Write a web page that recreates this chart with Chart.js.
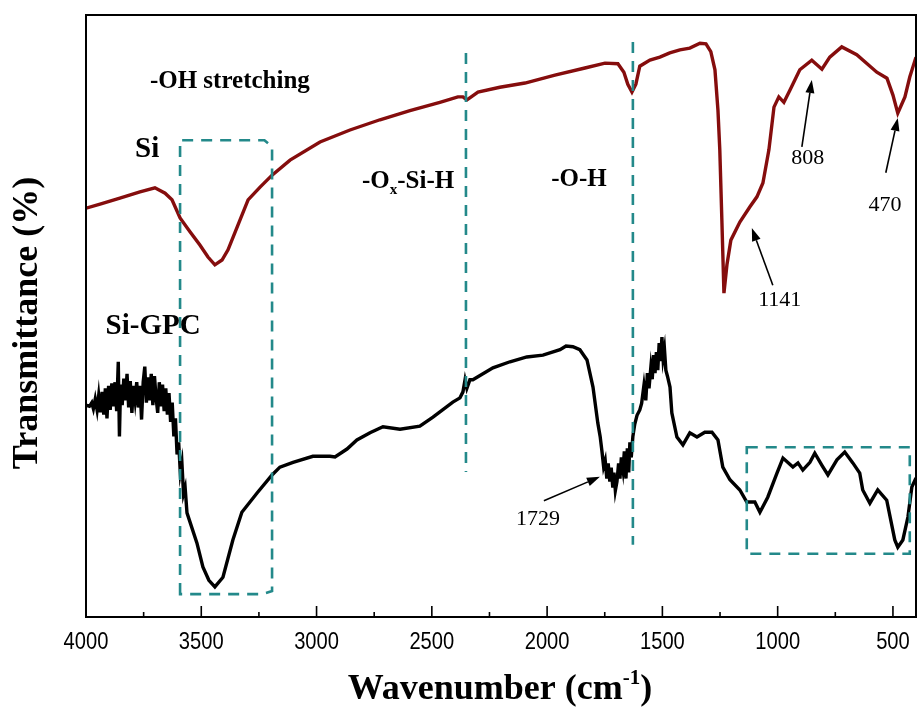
<!DOCTYPE html>
<html>
<head>
<meta charset="utf-8">
<script src="https://cdn.jsdelivr.net/npm/chart.js@4.4.1/dist/chart.umd.min.js"></script>
<style>
  html, body { margin: 0; padding: 0; background: #fff; }
  #ftir { display: block; }
</style>
</head>
<body>
<canvas id="ftir" width="917" height="718"></canvas>
<script>
// wavenumber (cm-1) and transmittance (a.u.) for the bare Si sample
const siWave = [4000, 3939, 3853, 3766, 3701, 3657, 3627, 3592, 3549, 3506, 3471, 3441, 3410, 3384, 3341, 3297,
  3245, 3193, 3115, 2985, 2855, 2725, 2595, 2465, 2387, 2365, 2348, 2326, 2300, 2205, 2096, 1966, 1836, 1749,
  1693, 1667, 1650, 1632, 1615, 1598, 1554, 1511, 1468, 1424, 1381, 1337, 1311, 1290, 1272, 1259, 1251, 1242,
  1233, 1220, 1203, 1164, 1121, 1090, 1064, 1038, 1016, 995, 973, 947, 904, 852, 808, 774, 722, 657, 570, 526,
  500, 479, 448, 427, 400];
const siT = [67.9, 68.6, 69.6, 70.6, 71.3, 70.4, 69.3, 66.3, 64.0, 61.8, 59.8, 58.5, 59.3, 61.0, 65.1, 69.3,
  71.4, 73.4, 75.9, 78.9, 80.9, 82.6, 84.1, 85.5, 86.4, 86.4, 85.9, 86.5, 87.2, 88.0, 88.7, 90.0, 91.2, 92.0,
  91.9, 90.5, 88.5, 87.2, 88.5, 91.5, 92.5, 93.0, 93.7, 94.2, 94.5, 95.3, 95.2, 93.9, 90.9, 84.2, 77.6, 65.9,
  53.8, 58.5, 62.6, 65.6, 68.1, 69.8, 72.1, 77.6, 84.7, 86.4, 85.5, 87.5, 90.9, 92.5, 91.0, 93.0, 94.7, 93.4,
  90.5, 89.5, 86.7, 83.7, 86.4, 89.7, 93.0];

// Si-GPC sample (noisy above 3600 and around 1729 / 1500)
const gpcWave = [4000, 3985, 3975, 3968, 3960, 3952, 3945, 3938, 3930, 3923, 3916, 3909, 3902, 3895, 3888, 3881,
  3874, 3867, 3860, 3855, 3850, 3843, 3836, 3829, 3822, 3815, 3808, 3801, 3794, 3787, 3780, 3773, 3766, 3759,
  3752, 3745, 3738, 3731, 3724, 3717, 3710, 3703, 3696, 3689, 3682, 3675, 3668, 3661, 3654, 3647, 3640, 3633,
  3626, 3619, 3612, 3605, 3598, 3591, 3584, 3577, 3570, 3562, 3519, 3493, 3467, 3441, 3406, 3363, 3324, 3258,
  3193, 3159, 3102, 3016, 2942, 2920, 2868, 2825, 2768, 2712, 2638, 2552, 2495, 2409, 2378, 2365, 2356, 2348,
  2335, 2322, 2235, 2161, 2088, 2018, 1944, 1918, 1888, 1858, 1827, 1801, 1780, 1770, 1762, 1755, 1748, 1741,
  1735, 1728, 1722, 1715, 1710, 1704, 1697, 1690, 1684, 1678, 1671, 1665, 1658, 1652, 1646, 1641, 1635, 1628,
  1620, 1610, 1598, 1590, 1580, 1572, 1565, 1558, 1550, 1544, 1538, 1532, 1526, 1520, 1514, 1508, 1502, 1497,
  1491, 1485, 1478, 1467, 1459, 1437, 1411, 1381, 1350, 1316, 1285, 1259, 1238, 1207, 1164, 1134, 1099, 1077,
  1043, 1003, 977, 934, 912, 891, 860, 839, 808, 782, 743, 709, 674, 644, 631, 600, 566, 527, 492, 479, 457,
  435, 418, 400];
const gpcT = [35.2, 35.0, 35.6, 34.6, 36.2, 34.4, 36.8, 34.0, 37.4, 33.6, 38.0, 33.0, 38.4, 34.4, 38.8, 35.0,
  39.0, 34.2, 42.4, 30.0, 38.6, 35.2, 39.6, 36.0, 40.4, 34.8, 39.2, 33.9, 38.4, 36.0, 39.0, 34.8, 38.4, 32.8,
  39.0, 41.6, 35.6, 39.8, 36.0, 40.4, 35.2, 40.0, 36.4, 33.9, 39.0, 35.0, 38.6, 34.2, 38.0, 33.6, 37.2, 32.4,
  35.6, 30.0, 33.0, 27.0, 29.0, 24.0, 25.6, 20.5, 21.5, 17.3, 12.3, 8.3, 6.1, 5.0, 6.6, 12.8, 17.4, 20.6,
  23.6, 24.9, 25.7, 26.7, 26.7, 26.6, 27.9, 29.4, 30.6, 31.6, 31.2, 31.7, 33.2, 35.7, 36.4, 37.4, 39.4, 38.0,
  39.4, 39.4, 41.4, 42.4, 43.2, 43.5, 44.4, 45.0, 44.9, 44.4, 42.7, 38.2, 32.2, 30.0, 27.5, 25.0, 26.0, 23.0,
  25.5, 22.5, 24.8, 21.5, 24.0, 21.0, 22.5, 25.5, 23.0, 26.5, 24.5, 27.5, 23.0, 28.0, 24.0, 29.0, 26.5, 30.0,
  32.0, 33.5, 34.4, 35.5, 38.5, 36.0, 40.5, 38.0, 41.5, 39.5, 43.5, 40.5, 44.0, 41.0, 45.5, 42.5, 46.5, 43.0,
  44.5, 41.0, 40.0, 38.2, 33.9, 29.9, 28.6, 30.6, 29.9, 30.7, 30.7, 29.4, 24.9, 22.8, 21.1, 19.1, 19.1, 17.4,
  19.9, 23.9, 26.4, 24.9, 25.6, 24.4, 25.7, 27.2, 25.2, 23.6, 26.1, 27.4, 25.6, 23.9, 21.1, 18.9, 21.1, 19.4,
  12.8, 11.6, 12.8, 16.6, 21.6, 23.1];

const majorTicks = [4000, 3500, 3000, 2500, 2000, 1500, 1000, 500];
const minorTicks = [3750, 3250, 2750, 2250, 1750, 1250, 750];

const serif = '"Liberation Serif", "Times New Roman", serif';
const teal = '#23898a';

function toPoints(xs, ys) {
  return xs.map((v, i) => ({ x: v, y: ys[i] }));
}

function arrow(ctx, x1, y1, x2, y2) {
  const ang = Math.atan2(y2 - y1, x2 - x1);
  const len = 13, half = 4.5;
  const bx = x2 - len * Math.cos(ang), by = y2 - len * Math.sin(ang);
  ctx.beginPath();
  ctx.moveTo(x1, y1);
  ctx.lineTo(bx, by);
  ctx.stroke();
  ctx.beginPath();
  ctx.moveTo(x2, y2);
  ctx.lineTo(bx + half * Math.sin(ang), by - half * Math.cos(ang));
  ctx.lineTo(bx - half * Math.sin(ang), by + half * Math.cos(ang));
  ctx.closePath();
  ctx.fill();
}

const decor = {
  id: 'decor',
  afterDatasetsDraw(chart) {
    const { ctx, chartArea: a, scales } = chart;
    const px = w => scales.x.getPixelForValue(w);
    const py = t => scales.y.getPixelForValue(t);
    ctx.save();

    // frame and inward ticks
    ctx.strokeStyle = '#000';
    ctx.lineWidth = 2;
    ctx.strokeRect(a.left, a.top, a.right - a.left, a.bottom - a.top);
    ctx.lineWidth = 1.6;
    ctx.beginPath();
    majorTicks.forEach(v => { ctx.moveTo(px(v), a.bottom); ctx.lineTo(px(v), a.bottom - 11); });
    minorTicks.forEach(v => { ctx.moveTo(px(v), a.bottom); ctx.lineTo(px(v), a.bottom - 5); });
    ctx.stroke();

    // tick labels, narrow sans
    ctx.fillStyle = '#000';
    ctx.textAlign = 'center';
    ctx.textBaseline = 'middle';
    ctx.font = '24px "Liberation Sans", Arial, sans-serif';
    majorTicks.forEach(v => {
      ctx.save();
      ctx.translate(px(v), a.bottom + 25);
      ctx.scale(0.84, 1);
      ctx.fillText(String(v), 0, 0);
      ctx.restore();
    });

    // dashed guides
    ctx.strokeStyle = teal;
    ctx.lineWidth = 2.6;
    ctx.setLineDash([11, 8]);
    ctx.beginPath();
    ctx.moveTo(px(2352), py(93.7)); ctx.lineTo(px(2352), py(24.1));
    ctx.moveTo(px(1628), py(95.5)); ctx.lineTo(px(1628), py(12.0));
    ctx.stroke();

    ctx.beginPath();
    ctx.moveTo(px(3592), py(3.8));
    ctx.lineTo(px(3592), py(79.2));
    ctx.lineTo(px(3226), py(79.2));
    ctx.lineTo(px(3193), py(78.1));
    ctx.lineTo(px(3193), py(4.3));
    ctx.lineTo(px(3236), py(3.8));
    ctx.closePath();
    ctx.stroke();

    ctx.beginPath();
    ctx.rect(px(1134), py(28.2), px(427) - px(1134), py(10.5) - py(28.2));
    ctx.stroke();
    ctx.setLineDash([]);

    // bold labels
    ctx.fillStyle = '#000';
    ctx.textBaseline = 'middle';
    ctx.textAlign = 'center';
    ctx.font = 'bold 25px ' + serif;
    ctx.fillText('-OH stretching', px(3376), py(89.0));
    ctx.fillText('-O-H', px(1862), py(72.6));
    ctx.font = 'bold 29px ' + serif;
    ctx.fillText('Si', px(3735), py(77.6));
    ctx.fillText('Si-GPC', px(3709), py(48.2));

    // -Ox-Si-H with subscript
    ctx.textAlign = 'left';
    let tx = px(2803);
    const ty = py(72.4);
    ctx.font = 'bold 25px ' + serif;
    ctx.fillText('-O', tx, ty);
    tx += ctx.measureText('-O').width;
    ctx.font = 'bold 15px ' + serif;
    ctx.fillText('x', tx, ty + 9);
    tx += ctx.measureText('x').width;
    ctx.font = 'bold 25px ' + serif;
    ctx.fillText('-Si-H', tx, ty);

    // peak positions
    ctx.textAlign = 'center';
    ctx.font = '22px ' + serif;
    ctx.fillText('808', px(869), py(76.2));
    ctx.fillText('470', px(535), py(68.4));
    ctx.fillText('1141', px(991), py(52.7));
    ctx.fillText('1729', px(2040), py(16.3));

    ctx.lineWidth = 1.6;
    ctx.strokeStyle = '#000';
    arrow(ctx, px(895), py(78.1), px(852), py(89.2));
    arrow(ctx, px(531), py(73.8), px(479), py(82.9));
    arrow(ctx, px(1021), py(55.1), px(1112), py(64.6));
    arrow(ctx, px(2014), py(19.3), px(1771), py(23.3));

    // axis titles
    ctx.font = 'bold 36px ' + serif;
    ctx.textAlign = 'center';
    ctx.textBaseline = 'middle';
    ctx.save();
    ctx.translate(28, 323);
    ctx.rotate(-Math.PI / 2);
    ctx.fillText('Transmittance (%)', 0, 0);
    ctx.restore();

    const main = 'Wavenumber (cm', sup = '-1', close = ')';
    ctx.font = 'bold 36px ' + serif;
    const w1 = ctx.measureText(main).width, w3 = ctx.measureText(close).width;
    ctx.font = 'bold 21px ' + serif;
    const w2 = ctx.measureText(sup).width;
    let xx = 500 - (w1 + w2 + w3) / 2;
    const by = 690;
    ctx.textAlign = 'left';
    ctx.font = 'bold 36px ' + serif;
    ctx.fillText(main, xx, by);
    xx += w1;
    ctx.font = 'bold 21px ' + serif;
    ctx.fillText(sup, xx, by - 11);
    xx += w2;
    ctx.font = 'bold 36px ' + serif;
    ctx.fillText(close, xx, by);

    ctx.restore();
  }
};

new Chart(document.getElementById('ftir'), {
  type: 'line',
  data: {
    datasets: [
      { data: toPoints(siWave, siT), borderColor: '#850d0d', borderWidth: 3.4, pointRadius: 0, tension: 0 },
      { data: toPoints(gpcWave, gpcT), borderColor: '#000000', borderWidth: 3.4, pointRadius: 0, tension: 0 }
    ]
  },
  options: {
    responsive: false,
    animation: false,
    events: [],
    layout: { padding: { left: 86, right: 1, top: 15, bottom: 101 } },
    plugins: { legend: { display: false }, tooltip: { enabled: false } },
    scales: {
      x: { type: 'linear', reverse: true, min: 400, max: 4000, display: false },
      y: { display: false, min: 0, max: 100 }
    }
  },
  plugins: [decor]
});
</script>
</body>
</html>
